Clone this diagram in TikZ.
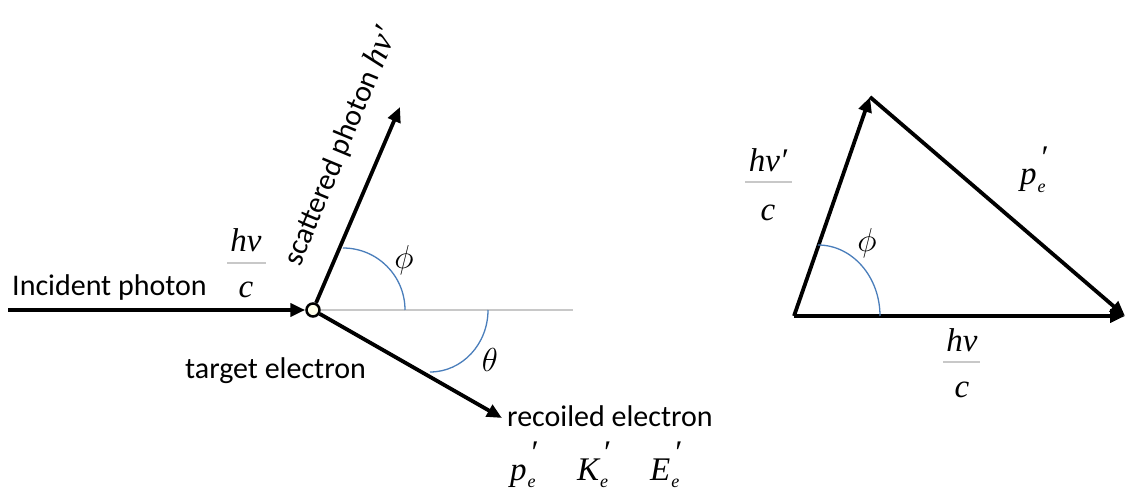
\documentclass[tikz,border=0pt]{standalone}
\usepackage{graphicx}
\usepackage{fontspec}
\setmainfont{Carlito}
\newfontfamily\tnr{Liberation Serif}
\usetikzlibrary{arrows.meta}
\definecolor{arcblue}{HTML}{4A7EBB}
\definecolor{lgray}{HTML}{C8C8C8}
\definecolor{elecfill}{HTML}{FFFFEA}
\newcommand{\pesub}[1]{#1\kern1pt\rlap{\raisebox{-0.22em}{\fontsize{18}{18}\selectfont e}}\raisebox{0.5em}{\kern4pt\upshape ′}}
\newcommand{\bigsym}[1]{\scalebox{1.6}{$#1$}}
\begin{document}
\begin{tikzpicture}[x=1pt,y=-1pt,
  arr/.style={line width=3.8pt,-{Triangle[length=15pt,width=13pt]}},
  lbl/.style={font=\fontsize{30}{32}\selectfont,inner sep=0pt},
  mth/.style={font=\tnr\fontsize{33}{35}\selectfont\itshape,inner sep=0pt},
  ang/.style={font=\fontsize{20}{22}\selectfont,inner sep=0pt},
  angarc/.style={draw=arcblue,line width=1.3pt},
  fbar/.style={draw=lgray,line width=1.6pt},
  elec/.style={circle,draw=black,line width=2.5pt,fill=elecfill,minimum size=13pt,inner sep=0pt}]
\useasboundingbox (0,0) rectangle (1128,497);
\fill[white] (0,0) rectangle (1128,497);
% ---- left: scattering event ----
\node[elec] (e) at (313,310) {};
\coordinate (gend) at (573,310);
\draw[draw=lgray,line width=2pt] (e.east) -- (gend);
\coordinate (start) at (8,310);
\draw[arr] (start) -- (e.west);
\coordinate (stip) at (400,107);
\draw[arr] (e) -- (stip);
\coordinate (rtip) at (502,418);
\draw[arr] (e) -- (rtip);
\draw[angarc] (343,248) arc[start angle=-90,end angle=0,radius=62];
\draw[angarc] (488,310) arc[start angle=0,end angle=90,x radius=58,y radius=62];
\node[ang] (phi1) at (404,260) {\bigsym{\phi}};
\node[ang] (theta1) at (490,360) {\bigsym{\theta}};
\node[lbl,anchor=base west] (inc) at (12,295) {Incident photon};
\node[mth] (hn1) at (246,240) {hν};
\coordinate (b1l) at (227,263); \coordinate (b1r) at (266,263);
\draw[fbar] (b1l) -- (b1r);
\node[mth] (c1) at (246,290) {c};
\node[lbl,anchor=base west,rotate=67.5] (st) at (300,268) {scattered photon {\tnr\itshape\fontsize{34}{36}\selectfont hν′}};
\node[lbl,anchor=base west] (tgt) at (185,378) {target electron};
\node[lbl,anchor=base west] (rec) at (507,426) {recoiled electron};
\node[mth,anchor=base west] (pq) at (510,480) {\pesub{p}};
\node[mth,anchor=base west] (kq) at (577,480) {\pesub{K}};
\node[mth,anchor=base west] (eq) at (650,480) {\pesub{E}};
% ---- right: momentum triangle ----
\coordinate (A) at (794,316);
\coordinate (B) at (870,97);
\coordinate (C) at (1125,316);
\draw[arr] (A) -- (B);
\draw[arr] (B) -- (C);
\draw[arr] (A) -- (C);
\draw[angarc] (818,245) arc[start angle=-90,end angle=0,x radius=62,y radius=71];
\node[ang] (phi2) at (867,243) {\bigsym{\phi}};
\node[mth] (hn2) at (768,160) {hν′};
\coordinate (b2l) at (745,182); \coordinate (b2r) at (792,182);
\draw[fbar] (b2l) -- (b2r);
\node[mth] (c2) at (768,213) {c};
\node[mth,anchor=base west] (pe) at (1020,185) {\pesub{p}};
\node[mth] (hn3) at (962,340) {hν};
\coordinate (b3l) at (943,362); \coordinate (b3r) at (980,362);
\draw[fbar] (b3l) -- (b3r);
\node[mth] (c3) at (962,390) {c};
\end{tikzpicture}
\end{document}
